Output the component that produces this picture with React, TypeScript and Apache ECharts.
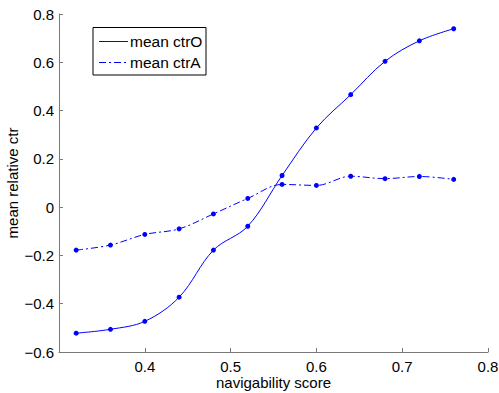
import React, { useEffect, useRef } from "react";
import * as echarts from "echarts";

const xValues = [0.32, 0.36, 0.4, 0.44, 0.48, 0.52, 0.56, 0.6, 0.64, 0.68, 0.72, 0.76];
const ctrO = [-0.522, -0.506, -0.473, -0.373, -0.178, -0.079, 0.131, 0.328, 0.466, 0.604, 0.689, 0.739];
const ctrA = [-0.178, -0.157, -0.113, -0.09, -0.028, 0.036, 0.094, 0.09, 0.128, 0.118, 0.127, 0.115];
const legendNames = ["mean ctrO", "mean ctrA"];
const xName = "navigability score";
const yName = "mean relative ctr";

const FONT = "'Liberation Sans', Arial, Helvetica, sans-serif";
const BLUE = "#0000ff";
const AXIS = "#7a7a7a";
const FS = 15;

export default function App() {
  const ref = useRef<HTMLDivElement>(null);
  useEffect(() => {
    if (!ref.current) return;
    const chart = echarts.init(ref.current, null, { renderer: "svg" });
    const fmt = (v: number) => {
      const s = Math.abs(v) < 1e-9 ? "0" : String(Math.round(v * 10) / 10);
      return s.replace("-", "\u2212");
    };
    chart.setOption({
      animation: false,
      backgroundColor: "#ffffff",
      textStyle: { fontFamily: FONT },
      grid: { left: 59, top: 14, right: 11, bottom: 41, containLabel: false, outerBoundsMode: "none" },
      xAxis: {
        type: "value",
        min: 0.3,
        max: 0.8,
        interval: 0.1,
        name: xName,
        nameLocation: "middle",
        nameGap: 23,
        nameMoveOverlap: false,
        nameTextStyle: { color: "#000", fontSize: FS, fontFamily: FONT, lineHeight: 14 },
        axisLine: { show: true, onZero: false, lineStyle: { color: AXIS, width: 1 } },
        axisTick: { show: true, inside: true, length: 4, lineStyle: { color: AXIS } },
        axisLabel: {
          showMinLabel: false,
          color: "#000",
          fontSize: FS,
          fontFamily: FONT,
          lineHeight: 14,
          margin: 7,
          formatter: fmt,
        },
        splitLine: { show: false },
      },
      yAxis: {
        type: "value",
        min: -0.6,
        max: 0.8,
        interval: 0.2,
        name: yName,
        nameLocation: "middle",
        nameGap: 39,
        nameMoveOverlap: false,
        nameTextStyle: { color: "#000", fontSize: FS, fontFamily: FONT },
        axisLine: { show: true, onZero: false, lineStyle: { color: AXIS, width: 1 } },
        axisTick: { show: true, inside: true, length: 4, lineStyle: { color: AXIS } },
        axisLabel: { color: "#000", fontSize: FS, fontFamily: FONT, margin: 5, formatter: fmt },
        splitLine: { show: false },
      },
      series: [
        {
          name: legendNames[0],
          type: "line",
          smooth: 0.35,
          data: xValues.map((x, i) => [x, ctrO[i]]),
          symbol: "circle",
          symbolSize: 5,
          lineStyle: { color: BLUE, width: 1 },
          itemStyle: { color: BLUE },
        },
        {
          name: legendNames[1],
          type: "line",
          smooth: 0.35,
          data: xValues.map((x, i) => [x, ctrA[i]]),
          symbol: "circle",
          symbolSize: 5,
          lineStyle: { color: BLUE, width: 1, type: [7, 3, 2, 3] },
          itemStyle: { color: BLUE },
        },
      ],
      graphic: [
        {
          type: "rect",
          shape: { x: 93, y: 27.5, width: 113, height: 47.5 },
          style: { fill: "#fff", stroke: "#000", lineWidth: 1 },
          z: 10,
        },
        {
          type: "line",
          shape: { x1: 99, y1: 41.5, x2: 128, y2: 41.5 },
          style: { stroke: BLUE, lineWidth: 1 },
          z: 11,
        },
        {
          type: "line",
          shape: { x1: 99, y1: 62.5, x2: 128, y2: 62.5 },
          style: { stroke: BLUE, lineWidth: 1, lineDash: [7, 3, 2, 3] },
          z: 11,
        },
        {
          type: "text",
          x: 130,
          y: 41.5,
          style: { text: legendNames[0], fill: "#000", font: `15.5px ${FONT}`, verticalAlign: "middle" },
          z: 11,
        },
        {
          type: "text",
          x: 130,
          y: 62.5,
          style: { text: legendNames[1], fill: "#000", font: `15.5px ${FONT}`, verticalAlign: "middle" },
          z: 11,
        },
      ],
    });
    return () => chart.dispose();
  }, []);
  return <div ref={ref} style={{ width: 499, height: 393, position: "fixed", left: 0, top: 0 }} />;
}
